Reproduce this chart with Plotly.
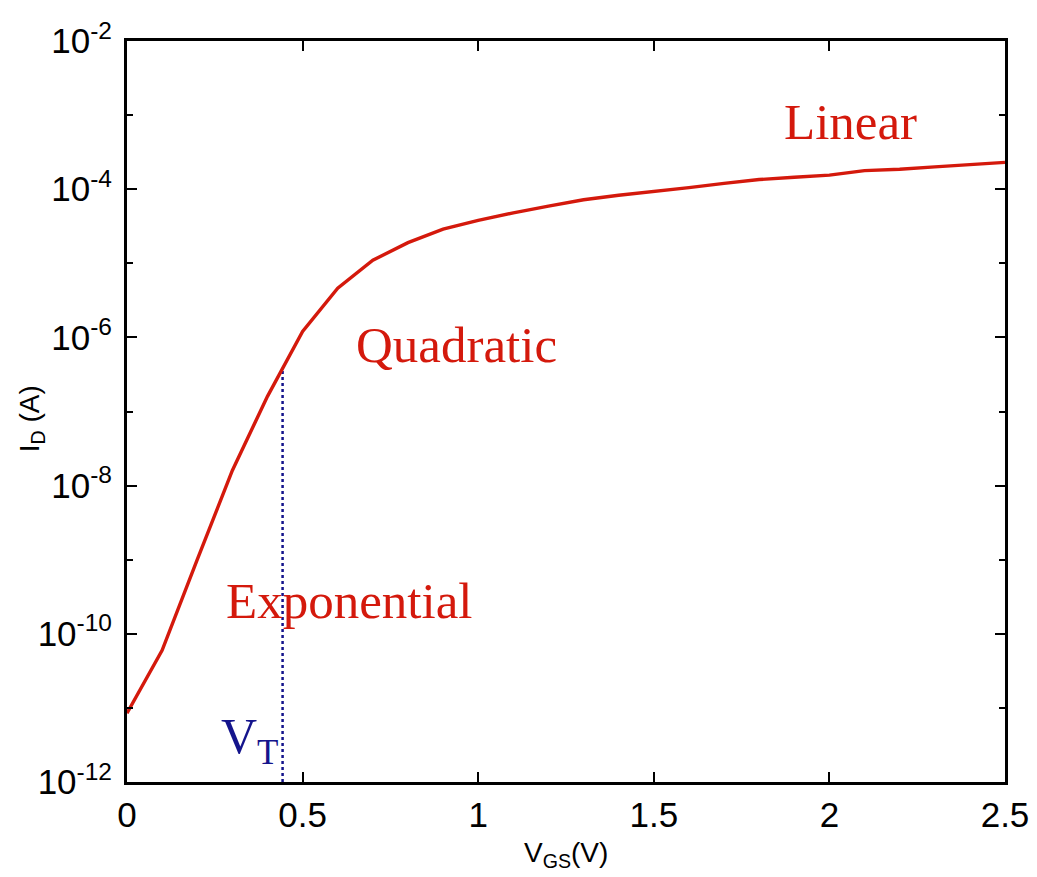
import numpy as np
import plotly.graph_objects as go

# Data
vgs = [0.0, 0.1, 0.2, 0.3, 0.4, 0.5, 0.6, 0.7, 0.8, 0.9, 1.0, 1.1, 1.2, 1.3,
       1.4, 1.5, 1.6, 1.7, 1.8, 1.9, 2.0, 2.1, 2.2, 2.3, 2.4, 2.5]
i_d = [8.5e-12, 6.0e-11, 1.0e-9, 1.6e-8, 1.6e-7, 1.2e-6, 4.6e-6, 1.1e-5,
       1.9e-5, 2.9e-5, 3.8e-5, 4.8e-5, 5.9e-5, 7.2e-5, 8.3e-5, 9.3e-5,
       1.05e-4, 1.2e-4, 1.35e-4, 1.45e-4, 1.55e-4, 1.78e-4, 1.86e-4,
       2.0e-4, 2.14e-4, 2.3e-4]
vt = 0.443

y_tick_vals = [1e-12, 1e-10, 1e-8, 1e-6, 1e-4, 1e-2]
y_tick_text = ["10<sup>-12</sup>", "10<sup>-10</sup>", "10<sup>-8</sup>",
               "10<sup>-6</sup>", "10<sup>-4</sup>", "10<sup>-2</sup>"]
y_minor_vals = [1e-11, 1e-9, 1e-7, 1e-5, 1e-3]
x_tick_vals = [0, 0.5, 1, 1.5, 2, 2.5]
x_tick_text = ["0", "0.5", "1", "1.5", "2", "2.5"]

RED = "#d4190c"
NAVY = "#14148c"

# current at V_T from the curve (log interpolation)
id_vt = 10 ** np.interp(vt, vgs, np.log10(i_d))

fig = go.Figure()
fig.add_trace(go.Scatter(x=[vt, vt], y=[1e-12, id_vt], mode="lines",
                         line=dict(color=NAVY, width=2.5, dash="dot"),
                         showlegend=False, hoverinfo="skip"))
fig.add_trace(go.Scatter(x=vgs, y=i_d, mode="lines",
                         line=dict(color=RED, width=3.4),
                         showlegend=False))

serif = "Liberation Serif"
fig.add_annotation(x=2.06, y=np.log10(8.1e-4), text="Linear", showarrow=False,
                   font=dict(family=serif, size=51, color=RED))
fig.add_annotation(x=0.937, y=np.log10(7.9e-7), text="Quadratic", showarrow=False,
                   font=dict(family=serif, size=51, color=RED))
fig.add_annotation(x=0.632, y=np.log10(2.75e-10), text="Exponential", showarrow=False,
                   font=dict(family=serif, size=51, color=RED))
fig.add_annotation(x=0.35, y=np.log10(3.7e-12), text="V<sub>T</sub>", showarrow=False,
                   font=dict(family=serif, size=50, color=NAVY))

sans = "Liberation Sans"
fig.add_annotation(xref="paper", yref="paper", x=0.5, y=-0.098, yanchor="middle",
                   text="V<sub>GS</sub>(V)", showarrow=False,
                   font=dict(family=sans, size=28, color="black"))
fig.add_annotation(xref="paper", yref="paper", x=-0.13, y=0.49, textangle=-90,
                   text="I<sub>D</sub> (A)", showarrow=False,
                   font=dict(family=sans, size=28, color="black"))

axis_common = dict(showline=True, linecolor="black", linewidth=3,
                   mirror="allticks", ticks="inside", tickcolor="black",
                   tickwidth=2, ticklen=10, showgrid=False, zeroline=False,
                   ticklabeloverflow="allow",
                   tickfont=dict(family=sans, size=35, color="black"))

fig.update_xaxes(range=[0, 2.5], tickmode="array", tickvals=x_tick_vals,
                 ticktext=x_tick_text, ticklabelstandoff=0, **axis_common)
fig.update_yaxes(type="log", range=[-12, -2], tickmode="array",
                 tickvals=y_tick_vals, ticktext=y_tick_text,
                 ticklabelstandoff=5,
                 minor=dict(tickmode="array", tickvals=y_minor_vals,
                            ticks="inside", ticklen=6, tickwidth=2,
                            tickcolor="black", showgrid=False),
                 **axis_common)

fig.update_layout(width=1037, height=877,
                  margin=dict(l=127, r=32, t=41, b=95, autoexpand=False),
                  paper_bgcolor="white", plot_bgcolor="white",
                  showlegend=False)

fig.write_html("out.html", config={"displayModeBar": False},
               post_script="document.body.style.margin='0';"
                           "document.body.style.overflow='hidden';")
